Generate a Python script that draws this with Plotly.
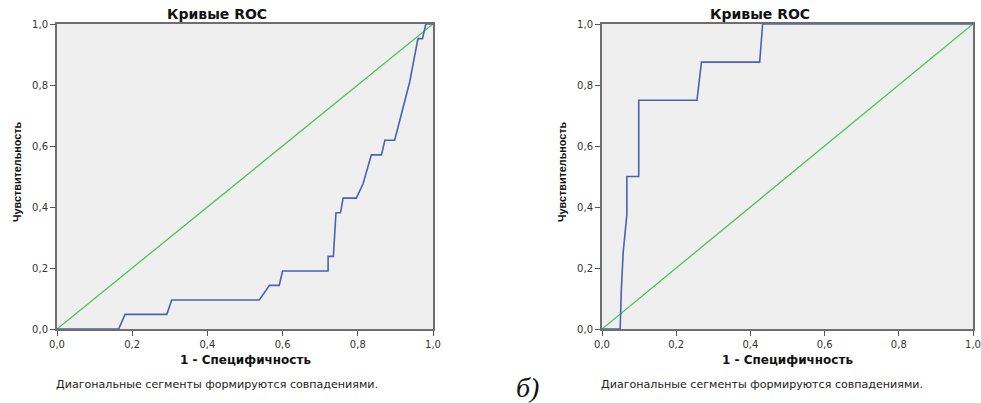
import plotly.graph_objects as go

# Left ROC curve (1 - specificity, sensitivity)
left_fpr = [0.0, 0.164, 0.181, 0.292, 0.305, 0.538, 0.565, 0.591, 0.600, 0.721, 0.721, 0.735, 0.742, 0.754, 0.761,
            0.796, 0.814, 0.836, 0.863, 0.872, 0.898, 0.938, 0.960, 0.972, 0.981, 1.0]
left_tpr = [0.0, 0.0, 0.048, 0.048, 0.095, 0.095, 0.143, 0.143, 0.190, 0.190, 0.238, 0.238, 0.381, 0.381, 0.429,
            0.429, 0.476, 0.571, 0.571, 0.619, 0.619, 0.810, 0.952, 0.952, 1.0, 1.0]

# Right ROC curve
right_fpr = [0.0, 0.049, 0.052, 0.057, 0.067, 0.067, 0.099, 0.099, 0.256, 0.268, 0.425, 0.433, 1.0]
right_tpr = [0.0, 0.0, 0.125, 0.25, 0.375, 0.5, 0.5, 0.75, 0.75, 0.875, 0.875, 1.0, 1.0]

ref_line = [0.0, 1.0]
tick_vals = [0.0, 0.2, 0.4, 0.6, 0.8, 1.0]
tick_text = ["0,0", "0,2", "0,4", "0,6", "0,8", "1,0"]

title_text = "Кривые ROC"
x_title = "1 - Специфичность"
y_title = "Чувствительность"
note_text = "Диагональные сегменты формируются совпадениями."
panel_label = "б)"

W, H = 981, 403
blue = "#4a62b5"
green = "#4cc35a"
wide = "DejaVu Sans"

fig = go.Figure()
for i, (fx, ty) in enumerate([(left_fpr, left_tpr), (right_fpr, right_tpr)]):
    xa = "x" if i == 0 else "x2"
    ya = "y" if i == 0 else "y2"
    fig.add_trace(go.Scatter(x=ref_line, y=ref_line, mode="lines", line=dict(color=green, width=1.3),
                             xaxis=xa, yaxis=ya, showlegend=False, hoverinfo="skip"))
    fig.add_trace(go.Scatter(x=fx, y=ty, mode="lines", line=dict(color=blue, width=1.6),
                             xaxis=xa, yaxis=ya, showlegend=False))

px_left = [(57, 433), (602, 973)]
top, bottom = 24, 329
ydom = [1 - bottom / H, 1 - top / H]

axis_common = dict(range=[0, 1], tickvals=tick_vals, ticktext=tick_text, showgrid=False, zeroline=False,
                   showline=True, mirror=True, linecolor="#6e6e6e", linewidth=2, automargin=False,
                   ticks="outside", ticklen=5, tickwidth=1, tickcolor="#555555",
                   tickfont=dict(family=wide, size=10, color="#333333"))

layout = dict(
    width=W, height=H, margin=dict(l=0, r=0, t=0, b=0, autoexpand=False),
    paper_bgcolor="white", plot_bgcolor="#efefef",
    font=dict(family="Liberation Sans"),
    xaxis=dict(domain=[px_left[0][0] / W, px_left[0][1] / W], anchor="y", **axis_common),
    yaxis=dict(domain=ydom, anchor="x", **axis_common),
    xaxis2=dict(domain=[px_left[1][0] / W, px_left[1][1] / W], anchor="y2", **axis_common),
    yaxis2=dict(domain=ydom, anchor="x2", **axis_common),
)
fig.update_layout(**layout)

anns = []
for (l, r), tx in zip(px_left, [217, 760]):
    cx = (l + r) / 2
    anns.append(dict(text="<b>" + title_text + "</b>", x=tx / W, y=1 - 14 / H, xref="paper", yref="paper",
                     showarrow=False, font=dict(family=wide, size=14, color="#111111"),
                     xanchor="center", yanchor="middle"))
    anns.append(dict(text="<b>" + x_title + "</b>", x=cx / W, y=1 - 360 / H, xref="paper", yref="paper",
                     showarrow=False, font=dict(family=wide, size=12, color="#111111"),
                     xanchor="center", yanchor="middle"))
    anns.append(dict(text="<b>" + y_title + "</b>", x=(l - 40) / W, y=1 - 172 / H, xref="paper", yref="paper",
                     showarrow=False, textangle=-90, font=dict(family="Liberation Sans", size=10.8, color="#111111"),
                     xanchor="center", yanchor="middle"))
    anns.append(dict(text=note_text, x=(l - 3) / W, y=1 - 384 / H, xref="paper", yref="paper",
                     showarrow=False, font=dict(family=wide, size=11.1, color="#222222"),
                     xanchor="left", yanchor="middle"))
anns.append(dict(text="<i>" + panel_label + "</i>", x=527 / W, y=1 - 387 / H, xref="paper", yref="paper",
                 showarrow=False, font=dict(family="Liberation Serif", size=28, color="#111111"),
                 xanchor="center", yanchor="middle"))
fig.update_layout(annotations=anns)

fig.write_html("out.html")
